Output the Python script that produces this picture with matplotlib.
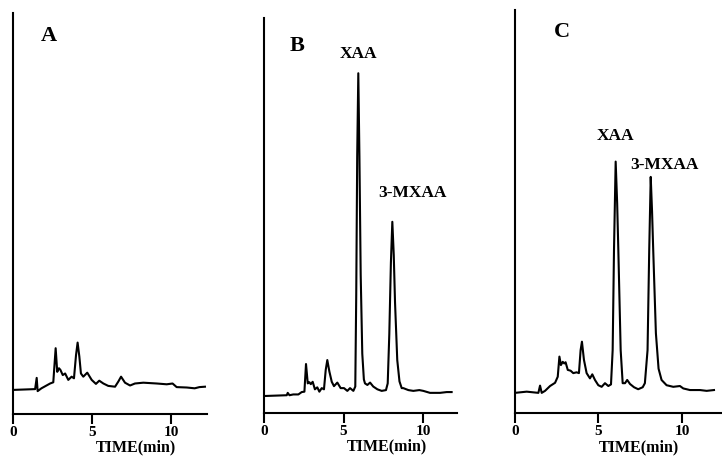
import matplotlib
matplotlib.use('agg')
import matplotlib.pyplot as plt

plt.rcParams['font.family'] = ['Liberation Serif', 'DejaVu Serif']
plt.rcParams['font.weight'] = 'bold'

# chromatogram traces (time in min, detector signal in arbitrary units)
time_a = [0.0, 1.4, 1.5, 1.56, 1.8, 2.35, 2.55, 2.7, 2.8, 2.91, 3.0, 3.15, 3.3, 3.5, 3.71,
          3.86, 3.99, 4.09, 4.2, 4.3, 4.45, 4.7, 4.98, 5.25, 5.46, 5.72, 6.03, 6.46, 6.67,
          6.84, 7.09, 7.41, 7.72, 8.25, 9.1, 9.73, 10.1, 10.36, 11.0, 11.5, 11.8, 12.15]
signal_a = [6.0, 6.2, 9.0, 5.7, 6.4, 7.6, 7.9, 16.4, 10.5, 11.4, 11.0, 9.7, 10.1, 8.5, 9.3,
            8.9, 14.7, 17.8, 14.3, 10.1, 9.3, 10.3, 8.5, 7.5, 8.3, 7.6, 7.0, 6.8, 8.1,
            9.3, 7.8, 7.1, 7.6, 7.8, 7.6, 7.4, 7.6, 6.7, 6.6, 6.4, 6.7, 6.8]

time_b = [0.0, 1.43, 1.49, 1.6, 1.84, 2.16, 2.37, 2.54, 2.64, 2.75, 2.85, 2.94, 3.06, 3.2,
          3.35, 3.48, 3.63, 3.77, 3.88, 3.98, 4.11, 4.26, 4.4, 4.61, 4.82, 5.03, 5.24, 5.41,
          5.62, 5.74, 5.80, 5.86, 5.93, 6.00, 6.08, 6.18, 6.28, 6.35, 6.5, 6.67, 6.87, 7.13,
          7.4, 7.67, 7.78, 7.88, 7.98, 8.07, 8.16, 8.24, 8.38, 8.52, 8.66, 8.76, 9.08, 9.39,
          9.77, 10.02, 10.44, 11.07, 11.49, 11.8]
signal_b = [4.3, 4.5, 5.1, 4.5, 4.7, 4.7, 5.3, 5.4, 12.4, 7.5, 7.8, 7.3, 7.9, 6.0,
            6.5, 5.4, 6.3, 6.0, 10.9, 13.4, 10.5, 7.9, 6.8, 7.7, 6.3, 6.3, 5.6, 6.3,
            5.6, 6.7, 30.0, 65.0, 86.0, 65.0, 35.0, 15.0, 8.5, 7.5, 7.1, 7.7, 6.7, 6.0,
            5.6, 5.8, 7.5, 20.0, 38.0, 48.4, 40.0, 28.0, 13.4, 8.0, 6.3, 6.3, 5.8, 5.6,
            5.8, 5.6, 5.1, 5.1, 5.3, 5.3]

time_c = [0.0, 0.7, 1.4, 1.5, 1.6, 1.8, 2.1, 2.4, 2.56, 2.66, 2.75, 2.86, 2.95, 3.03, 3.16,
          3.33, 3.49, 3.69, 3.83, 3.93, 4.01, 4.13, 4.29, 4.49, 4.63, 4.79, 4.99, 5.19,
          5.39, 5.59, 5.75, 5.85, 5.93, 6.03, 6.12, 6.19, 6.33, 6.45, 6.59, 6.72, 6.89,
          7.13, 7.38, 7.65, 7.78, 7.94, 8.04, 8.13, 8.21, 8.28, 8.44, 8.6, 8.78, 9.08,
          9.48, 9.88, 10.08, 10.48, 11.08, 11.48, 11.92]
signal_c = [5.0, 5.3, 5.0, 6.8, 5.0, 5.5, 6.7, 7.5, 9.0, 14.0, 11.9, 12.7, 12.3, 12.6, 10.7,
            10.5, 9.9, 10.1, 9.9, 15.6, 17.7, 13.2, 9.9, 8.6, 9.6, 8.2, 6.9, 6.5,
            7.4, 6.7, 7.1, 15.6, 40.4, 62.4, 52.0, 40.4, 15.6, 7.4, 7.4, 8.2, 7.2,
            6.4, 5.9, 6.4, 7.4, 15.6, 40.4, 58.6, 50.0, 40.4, 19.8, 11.0, 8.2, 6.9,
            6.5, 6.7, 6.1, 5.7, 5.7, 5.5, 5.7]

panel_letters = ['A', 'B', 'C']
xtick_values = [0, 5, 10]
xtick_labels = ['0', '5', '10']

fig = plt.figure(figsize=(7.22, 4.61), dpi=100)

# axes boxes in figure fractions, one per panel
boxes = [[0.018, 0.102, 0.2687, 0.870],
         [0.3657, 0.1041, 0.2673, 0.857],
         [0.7133, 0.1041, 0.2867, 0.874]]
xmax = [12.28, 12.14, 12.4]
traces = [(time_a, signal_a), (time_b, signal_b), (time_c, signal_c)]
letter_pos = [(2.28, 94.3), (2.08, 92.9), (2.81, 94.5)]
xlabel_x = [7.8, 7.7, 7.4]

for i in range(3):
    ax = fig.add_axes(boxes[i])
    t, s = traces[i]
    ax.plot(t, s, color='black', lw=1.5, solid_joinstyle='round')
    ax.set_xlim(0, xmax[i])
    ax.set_ylim(0, 100)
    for side in ['top', 'right']:
        ax.spines[side].set_visible(False)
    for side in ['left', 'bottom']:
        ax.spines[side].set_linewidth(1.5)
    ax.set_yticks([])
    ax.set_xticks(xtick_values)
    ax.set_xticklabels(xtick_labels, fontsize=11, fontweight='bold')
    ax.tick_params(axis='x', direction='out', length=7.5, width=1.5, pad=1)
    # axis title sits in the lower-right part of each panel, as in the original
    ax.text(xlabel_x[i], -0.0845, 'TIME(min)', transform=ax.get_xaxis_transform(),
            ha='center', va='center', fontsize=11.5, fontweight='bold')
    lx, ly = letter_pos[i]
    ax.text(lx, ly, panel_letters[i], ha='center', va='center',
            fontsize=16, fontweight='bold')
    ax.patch.set_visible(False)
    if i == 1:
        ax.text(5.91, 90.9, 'XAA', ha='center', va='center', fontsize=12.5, fontweight='bold')
        ax.text(9.31, 55.7, '3-MXAA', ha='center', va='center', fontsize=12.5, fontweight='bold')
    if i == 2:
        ax.text(6.0, 68.7, 'XAA', ha='center', va='center', fontsize=12.5, fontweight='bold')
        ax.text(8.98, 61.5, '3-MXAA', ha='center', va='center', fontsize=12.5, fontweight='bold')

fig.savefig('out.png', dpi=100)
